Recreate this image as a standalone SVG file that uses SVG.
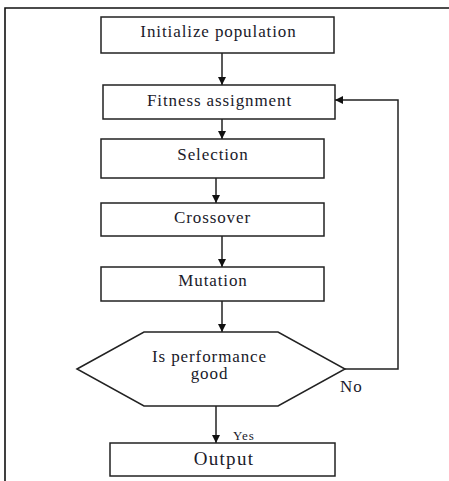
<svg xmlns="http://www.w3.org/2000/svg" width="449" height="481" viewBox="0 0 449 481">
<style>
.box{fill:#fff;stroke:#222;stroke-width:1.5}
.t{font-family:"Liberation Serif","Times New Roman",serif;font-size:17px;letter-spacing:0.9px;fill:#1a1a2a;text-anchor:middle}
.ln{fill:none;stroke:#222;stroke-width:1.5}
</style>
<defs>
<marker id="ah" viewBox="0 0 10 10" refX="10" refY="5" markerWidth="8" markerHeight="8" markerUnits="userSpaceOnUse" orient="auto">
<path d="M0,0 L10,5 L0,10 z" fill="#111"/>
</marker>
</defs>
<rect width="449" height="481" fill="#fff"/>
<g id="frame">
<path d="M449,8 L5,8 L5,481" fill="none" stroke="#111" stroke-width="1.6"/>
</g>
<g id="connectors">
<path class="ln" d="M222,53 L222,85" marker-end="url(#ah)"/>
<path class="ln" d="M222,119 L222,139" marker-end="url(#ah)"/>
<path class="ln" d="M216,178 L216,203" marker-end="url(#ah)" stroke="#555"/>
<path class="ln" d="M222,236 L222,267" marker-end="url(#ah)"/>
<path class="ln" d="M222,301 L222,332" marker-end="url(#ah)"/>
<path class="ln" d="M216,406 L216,443" marker-end="url(#ah)" stroke="#555"/>
<path class="ln" d="M345,369 L398,369 L398,100 L335,100" marker-end="url(#ah)" stroke="#666"/>
</g>
<g id="init">
<rect class="box" x="101" y="17" width="233" height="36"/>
<text class="t" x="218.5" y="37">Initialize population</text>
</g>
<g id="fitness">
<rect class="box" x="103" y="85" width="232" height="34"/>
<text class="t" x="219.5" y="106">Fitness assignment</text>
</g>
<g id="selection">
<rect class="box" x="101" y="139" width="223" height="39"/>
<text class="t" x="213" y="160">Selection</text>
</g>
<g id="crossover">
<rect class="box" x="101" y="203" width="223" height="33"/>
<text class="t" x="212.5" y="223">Crossover</text>
</g>
<g id="mutation">
<rect class="box" x="101" y="267" width="223" height="34"/>
<text class="t" x="213" y="286">Mutation</text>
</g>
<g id="decision">
<polygon class="box" points="77,369 144,332 278,332 345,369 278,406 144,406"/>
<text class="t" x="209.5" y="361.5">Is performance</text>
<text class="t" x="209.5" y="379">good</text>
</g>
<g id="labels">
<text class="t" x="340" y="391.5" style="text-anchor:start">No</text>
<text class="t" x="233" y="440" style="text-anchor:start;font-size:13px">Yes</text>
</g>
<g id="output">
<rect class="box" x="110" y="443" width="225" height="33"/>
<text class="t" x="224" y="465" style="font-size:19px;letter-spacing:1.3px">Output</text>
</g>
</svg>
